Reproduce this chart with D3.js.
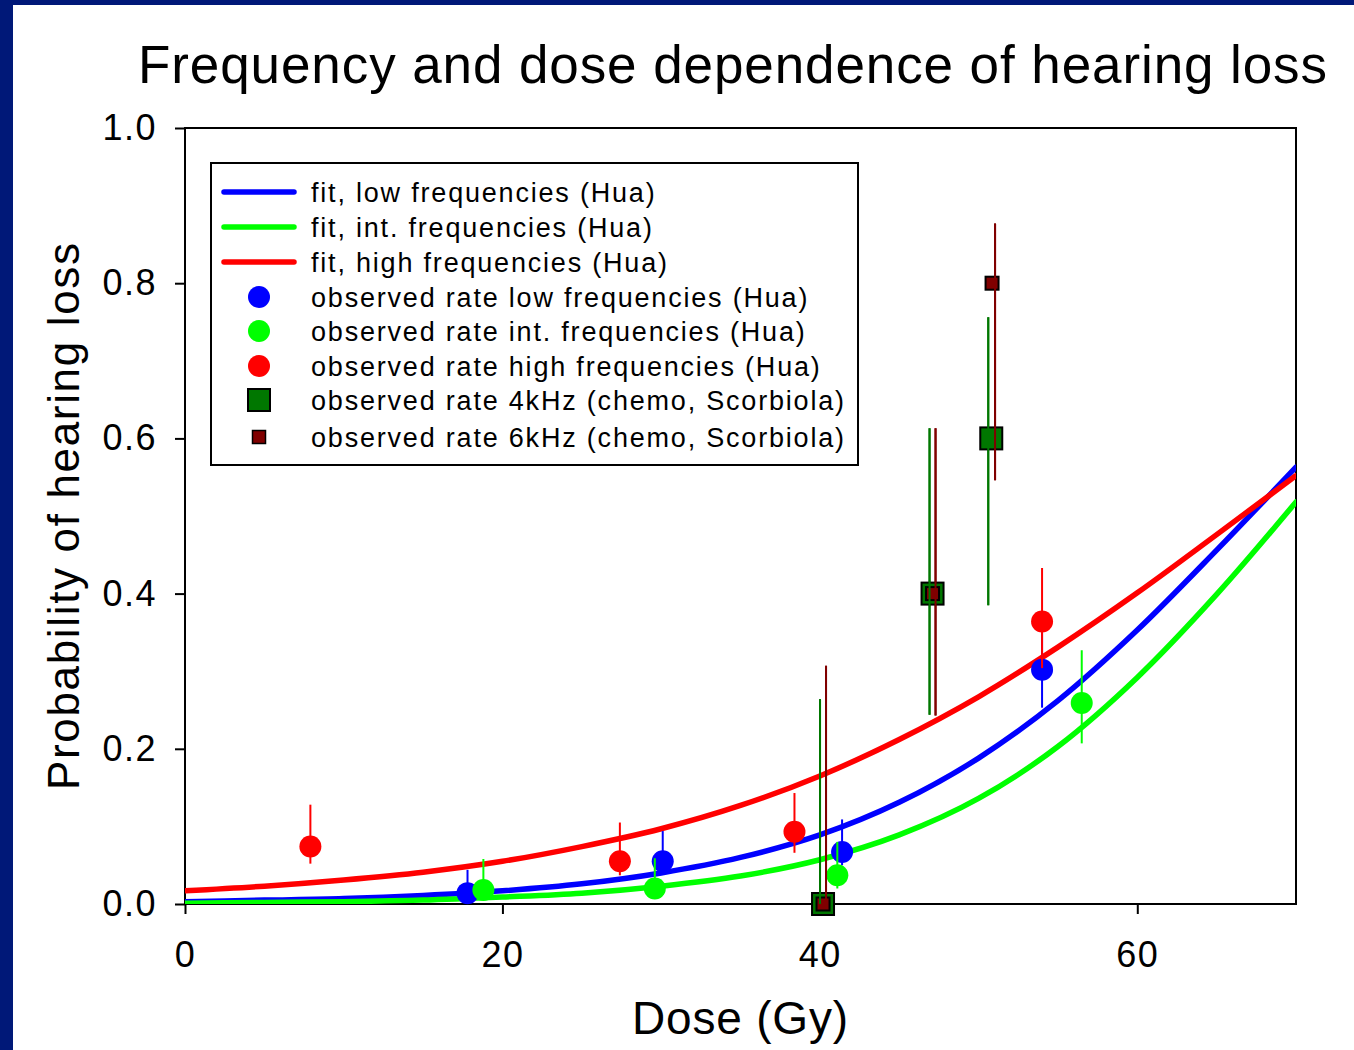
<!DOCTYPE html>
<html>
<head>
<meta charset="utf-8">
<script src="https://cdnjs.cloudflare.com/ajax/libs/d3/7.8.5/d3.min.js"></script>
<style>
  html, body { margin: 0; padding: 0; background: #fff; }
  text { font-family: "Liberation Sans", Arial, sans-serif; fill: #000; }
</style>
</head>
<body>
<script>
const width = 1354;
const height = 1050;

// fitted curves, read at 5 Gy steps
const doses = [0, 5, 10, 15, 20, 25, 30, 35, 40, 45, 50, 55, 60, 65, 70];
const fitLow = [0.003, 0.005, 0.007, 0.011, 0.017, 0.026, 0.040, 0.060, 0.089, 0.131, 0.188, 0.262, 0.353, 0.456, 0.563];
const fitInt = [0.001, 0.002, 0.003, 0.005, 0.009, 0.014, 0.023, 0.036, 0.057, 0.089, 0.136, 0.203, 0.292, 0.399, 0.518];
const fitHigh = [0.017, 0.023, 0.031, 0.041, 0.055, 0.074, 0.097, 0.127, 0.165, 0.212, 0.267, 0.331, 0.401, 0.476, 0.552];

// observed rates (Hua)
const lowDose = [17.8, 30.1, 41.4, 54.0];
const lowRate = [0.014, 0.055, 0.067, 0.302];
const lowLo = [0.004, 0.038, 0.050, 0.253];
const lowHi = [0.044, 0.094, 0.109, 0.350];

const intDose = [18.8, 29.6, 41.1, 56.5];
const intRate = [0.018, 0.020, 0.037, 0.259];
const intLo = [0.006, 0.008, 0.020, 0.207];
const intHi = [0.058, 0.059, 0.080, 0.327];

const highDose = [7.9, 27.4, 38.4, 54.0];
const highRate = [0.074, 0.055, 0.093, 0.364];
const highLo = [0.052, 0.037, 0.066, 0.304];
const highHi = [0.128, 0.105, 0.143, 0.433];

// observed rates (chemo, Scorbiola)
const k4Dose = [40.2, 47.1, 50.8];
const k4Rate = [0.0, 0.4, 0.6];
const k4Lo = [0.0, 0.244, 0.385];
const k4Hi = [0.264, 0.613, 0.756];

const k6Dose = [40.2, 47.1, 50.85];
const k6Rate = [0.0, 0.4, 0.8];
const k6Lo = [0.0, 0.243, 0.546];
const k6Hi = [0.307, 0.613, 0.877];

const xTicks = [0, 20, 40, 60];
const yTicks = [0, 0.2, 0.4, 0.6, 0.8, 1.0];

const legendLabels = [
  "fit, low frequencies (Hua)",
  "fit, int. frequencies (Hua)",
  "fit, high frequencies (Hua)",
  "observed rate low frequencies (Hua)",
  "observed rate int. frequencies (Hua)",
  "observed rate high frequencies (Hua)",
  "observed rate 4kHz (chemo, Scorbiola)",
  "observed rate 6kHz (chemo, Scorbiola)"
];

const margin = {left: 185, top: 128, right: 58, bottom: 146};

let svg = d3.select("body").append("svg")
  .attr("width", width)
  .attr("height", height);

// navy frame of the slide
svg.append("rect").attr("x", 0).attr("y", 0).attr("width", width).attr("height", height).attr("fill", "#fff");
svg.append("rect").attr("x", 0).attr("y", 0).attr("width", 13).attr("height", height).attr("fill", "#001878");
svg.append("rect").attr("x", 0).attr("y", 0).attr("width", width).attr("height", 5).attr("fill", "#001878");

let x = d3.scaleLinear().domain([0, 70]).range([margin.left, width - margin.right]);
let y = d3.scaleLinear().domain([0, 1]).range([height - margin.bottom, margin.top]);

svg.append("defs").append("clipPath").attr("id", "plot")
  .append("rect")
  .attr("x", x(0)).attr("y", y(1))
  .attr("width", x(70) - x(0)).attr("height", y(0) - y(1));

// title
svg.append("text")
  .attr("x", 138).attr("y", 83)
  .attr("textLength", 1189)
  .attr("lengthAdjust", "spacing")
  .style("font-size", "53px")
  .text("Frequency and dose dependence of hearing loss");

// axes
let xAxis = d3.axisBottom(x).tickValues(xTicks).tickSize(10).tickPadding(22).tickFormat(d3.format("d"));
let yAxis = d3.axisLeft(y).tickValues(yTicks).tickSize(10).tickPadding(18).tickFormat(d3.format(".1f"));

let gx = svg.append("g").attr("transform", `translate(0,${y(0)})`).call(xAxis);
let gy = svg.append("g").attr("transform", `translate(${x(0)},0)`).call(yAxis);
[gx, gy].forEach(g => {
  g.select(".domain").remove();
  g.selectAll(".tick line").attr("stroke", "#000").attr("stroke-width", 2);
  g.selectAll(".tick text").style("font-size", "36px").style("letter-spacing", "1.5px").attr("fill", "#000");
});
gx.selectAll(".tick text").attr("dy", "0.85em");

svg.append("rect")
  .attr("x", x(0)).attr("y", y(1))
  .attr("width", x(70) - x(0)).attr("height", y(0) - y(1))
  .attr("fill", "none").attr("stroke", "#000").attr("stroke-width", 2);

// axis titles
svg.append("text")
  .attr("x", 632).attr("y", 1034)
  .attr("textLength", 216)
  .attr("lengthAdjust", "spacing")
  .style("font-size", "46px")
  .text("Dose (Gy)");

svg.append("text")
  .attr("transform", "translate(79,790) rotate(-90)")
  .attr("textLength", 547)
  .attr("lengthAdjust", "spacing")
  .style("font-size", "44px")
  .text("Probability of hearing loss");

// fit curves
let line = d3.line()
  .x(d => x(d[0]))
  .y(d => y(d[1]))
  .curve(d3.curveMonotoneX);

let plot = svg.append("g").attr("clip-path", "url(#plot)");

[[fitLow, "#0000ff"], [fitInt, "#00ff00"], [fitHigh, "#ff0000"]].forEach(([vals, c]) => {
  plot.append("path")
    .datum(doses.map((d, i) => [d, vals[i]]))
    .attr("d", line)
    .attr("fill", "none")
    .attr("stroke", c)
    .attr("stroke-width", 5.5)
    .attr("stroke-linecap", "round");
});

// error bars
function errBars(ds, lo, hi, color, dx) {
  svg.append("g").selectAll("line")
    .data(ds)
    .enter()
    .append("line")
    .attr("x1", (d, i) => x(d) + dx)
    .attr("x2", (d, i) => x(d) + dx)
    .attr("y1", (d, i) => y(lo[i]))
    .attr("y2", (d, i) => y(hi[i]))
    .attr("stroke", color)
    .attr("stroke-width", 2);
}

function circles(ds, rates, color) {
  svg.append("g").selectAll("circle")
    .data(ds)
    .enter()
    .append("circle")
    .attr("cx", d => x(d))
    .attr("cy", (d, i) => y(rates[i]))
    .attr("r", 11)
    .attr("fill", color);
}

function squares(ds, rates, size, color) {
  svg.append("g").selectAll("rect")
    .data(ds)
    .enter()
    .append("rect")
    .attr("x", d => x(d) - size / 2)
    .attr("y", (d, i) => y(rates[i]) - size / 2)
    .attr("width", size)
    .attr("height", size)
    .attr("fill", color)
    .attr("stroke", "#000")
    .attr("stroke-width", 2);
}

errBars(lowDose, lowLo, lowHi, "#0000ff", 0);
circles(lowDose, lowRate, "#0000ff");
errBars(intDose, intLo, intHi, "#00ff00", 0);
circles(intDose, intRate, "#00ff00");
errBars(highDose, highLo, highHi, "#ff0000", 0);
circles(highDose, highRate, "#ff0000");

errBars(k4Dose, k4Lo, k4Hi, "#007700", -3);
errBars(k6Dose, k6Lo, k6Hi, "#800000", 3);
squares(k4Dose, k4Rate, 22, "#007700");
squares(k6Dose, k6Rate, 13, "#800000");
// error bars stay visible across the squares
errBars(k4Dose, k4Lo, k4Hi, "#007700", -3);
errBars(k6Dose, k6Lo, k6Hi, "#800000", 3);

// legend
let legend = svg.append("g");
legend.append("rect")
  .attr("x", 211).attr("y", 163)
  .attr("width", 647).attr("height", 302)
  .attr("fill", "#fff").attr("stroke", "#000").attr("stroke-width", 2);

const rowY = [192, 227, 262, 297, 331, 366, 400, 437];
const lineColors = ["#0000ff", "#00ff00", "#ff0000"];
const dotColors = ["#0000ff", "#00ff00", "#ff0000"];

lineColors.forEach((c, i) => {
  legend.append("line")
    .attr("x1", 224).attr("x2", 294)
    .attr("y1", rowY[i]).attr("y2", rowY[i])
    .attr("stroke", c).attr("stroke-width", 5.5).attr("stroke-linecap", "round");
});
dotColors.forEach((c, i) => {
  legend.append("circle")
    .attr("cx", 259).attr("cy", rowY[i + 3]).attr("r", 11).attr("fill", c);
});
legend.append("rect").attr("x", 248).attr("y", rowY[6] - 11).attr("width", 22).attr("height", 22)
  .attr("fill", "#007700").attr("stroke", "#000").attr("stroke-width", 2);
legend.append("rect").attr("x", 252.5).attr("y", rowY[7] - 6.5).attr("width", 13).attr("height", 13)
  .attr("fill", "#800000").attr("stroke", "#000").attr("stroke-width", 1.5);

legend.selectAll("text.lab")
  .data(legendLabels)
  .enter()
  .append("text")
  .attr("class", "lab")
  .attr("x", 311)
  .attr("y", (d, i) => rowY[i])
  .attr("dy", "0.36em")
  .style("font-size", "27px")
  .style("letter-spacing", "1.8px")
  .text(d => d);
</script>
</body>
</html>
